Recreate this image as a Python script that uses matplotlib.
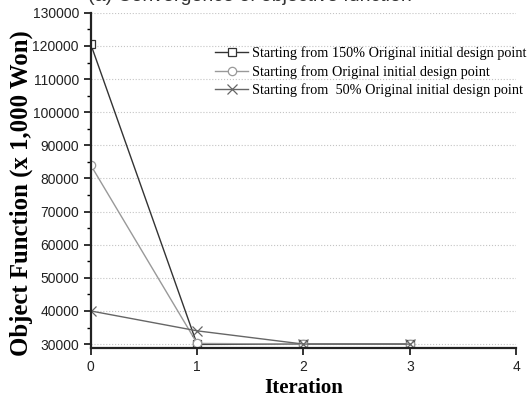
import matplotlib.pyplot as plt
from matplotlib.ticker import MultipleLocator

# iteration data
iterations = [0, 1, 2, 3]
start_150 = [120500, 29900, 30000, 30000]
start_100 = [84000, 30200, 30000, 30000]
start_50 = [40000, 34000, 30000, 30000]

labels = ["Starting from 150% Original initial design point",
          "Starting from Original initial design point",
          "Starting from  50% Original initial design point"]

fig = plt.figure(figsize=(5.31, 4.01), dpi=100)
ax = fig.add_axes([0.171, 0.132, 0.801, 0.836])

ax.plot(iterations, start_150, color='#333333', lw=1.0, marker='s', ms=6,
        mfc='white', mec='#333333', mew=0.9, label=labels[0])
ax.plot(iterations, start_100, color='#999999', lw=1.0, marker='o', ms=6,
        mfc='white', mec='#999999', mew=0.9, label=labels[1])
ax.plot(iterations, start_50, color='#666666', lw=1.0, marker='x', ms=7,
        mec='#666666', mew=0.9, label=labels[2])

ax.set_xlim(0, 4)
ax.set_ylim(28800, 130000)
ax.xaxis.set_major_locator(MultipleLocator(1))
ax.set_yticks(range(30000, 130001, 10000))
ax.yaxis.set_minor_locator(MultipleLocator(5000))
ax.grid(axis='y', which='major', ls=':', color='#c4c4c4', lw=0.8)

for s in ['top', 'right']:
    ax.spines[s].set_visible(False)
for s in ['left', 'bottom']:
    ax.spines[s].set_linewidth(1.6)
    ax.spines[s].set_color('#222222')

ax.tick_params(which='major', direction='out', length=5, width=1.3,
               labelsize=10, colors='#222222')
ax.tick_params(which='minor', direction='out', length=3, width=1.0)
for t in ax.get_xticklabels() + ax.get_yticklabels():
    t.set_family('Liberation Sans')

ax.set_xlabel("Iteration", family='Liberation Serif', fontweight='bold',
              fontsize=15)
ax.xaxis.set_label_coords(0.5, -0.088)
ax.set_ylabel("Object Function (x 1,000 Won)", family='Liberation Serif',
              fontweight='bold', fontsize=17.8)
ax.yaxis.set_label_coords(-0.136, 0.462)

leg = ax.legend(loc='upper right', bbox_to_anchor=(1.011, 0.91),
                bbox_transform=fig.transFigure, frameon=False,
                prop={'family': 'Liberation Serif', 'size': 10.3},
                handlelength=2.3, handletextpad=0.3, labelspacing=0.35,
                borderpad=0.2)

fig.text(0.47, 1.008, "(a) Convergence of objective function", ha='center',
         va='center', fontsize=14, family='Liberation Sans', color='#333333')

plt.savefig('out.png', dpi=100)
